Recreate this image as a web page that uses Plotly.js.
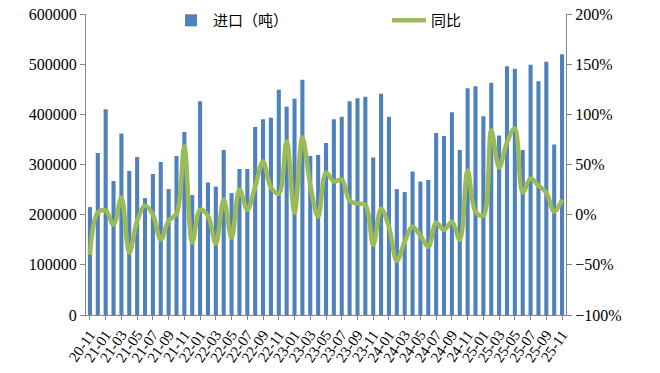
<!DOCTYPE html>
<html>
<head>
<meta charset="utf-8">
<script src="https://cdn.plot.ly/plotly-3.0.1.min.js"></script>
<style>
html,body{margin:0;padding:0;background:#fff;}
#chart{width:660px;height:373px;}
</style>
</head>
<body>
<div id="chart"></div>
<script>
const months = [
  "20-11","20-12",
  "21-01","21-02","21-03","21-04","21-05","21-06","21-07","21-08","21-09","21-10","21-11","21-12",
  "22-01","22-02","22-03","22-04","22-05","22-06","22-07","22-08","22-09","22-10","22-11","22-12",
  "23-01","23-02","23-03","23-04","23-05","23-06","23-07","23-08","23-09","23-10","23-11","23-12",
  "24-01","24-02","24-03","24-04","24-05","24-06","24-07","24-08","24-09","24-10","24-11","24-12",
  "25-01","25-02","25-03","25-04","25-05","25-06","25-07","25-08","25-09","25-10","25-11"
];
const imports = [
  215000, 323000,
  410000, 267000, 362000, 287000, 315000, 233000, 281000, 305000, 251000, 317000, 365000, 239000,
  426000, 264000, 256000, 329000, 243000, 291000, 291000, 375000, 390000, 393000, 449000, 415000,
  431000, 469000, 317000, 319000, 343000, 390000, 395000, 426000, 432000, 435000, 314000, 441000,
  395000, 251000, 245000, 286000, 266000, 269000, 363000, 357000, 404000, 329000, 452000, 456000,
  396000, 463000, 358000, 496000, 491000, 329000, 499000, 466000, 505000, 340000, 520000
];
const yoy = [
  -0.40, 0.02,
  0.04, -0.10, 0.17, -0.38, -0.06, 0.09, 0.00, -0.25, -0.06, 0.01, 0.68, -0.28,
  0.05, -0.01, -0.29, 0.15, -0.23, 0.25, 0.05, 0.28, 0.53, 0.27, 0.21, 0.73,
  0.02, 0.77, 0.30, -0.02, 0.42, 0.33, 0.35, 0.14, 0.11, 0.10, -0.30, 0.06,
  -0.12, -0.46, -0.27, -0.12, -0.21, -0.32, -0.08, -0.15, -0.07, -0.25, 0.44, 0.03,
  -0.01, 0.84, 0.47, 0.72, 0.86, 0.22, 0.36, 0.29, 0.22, 0.03, 0.15
];
const tickLabels = months.filter((m, i) => i % 2 === 0);

const serif = "Liberation Serif, Times New Roman, serif";
const cjk = "Noto Sans CJK SC, sans-serif";

const data = [
  {
    type: "bar",
    name: "进口（吨）",
    x: months,
    y: imports,
    marker: {color: "#4F81BD"},
    yaxis: "y",
    legend: "legend"
  },
  {
    type: "scatter",
    mode: "lines",
    name: "同比",
    x: months,
    y: yoy,
    line: {color: "#9BBB59", width: 4.5, shape: "spline", smoothing: 1},
    yaxis: "y2",
    legend: "legend2"
  }
];

const axisColor = "#868686";
const legendBase = {
  orientation: "h",
  xanchor: "left",
  y: 1.033, yanchor: "top",
  font: {family: cjk, size: 15, color: "#000"},
  itemwidth: 34,
  bgcolor: "rgba(0,0,0,0)"
};
const layout = {
  width: 660,
  height: 373,
  margin: {l: 86, r: 94, t: 14, b: 58, pad: 0, autoexpand: false},
  paper_bgcolor: "#ffffff",
  plot_bgcolor: "#ffffff",
  bargap: 0.48,
  showlegend: true,
  legend: Object.assign({}, legendBase, {x: 0.173}),
  legend2: Object.assign({}, legendBase, {x: 0.627}),
  xaxis: {
    type: "category",
    range: [-0.5, months.length - 0.5],
    tickmode: "array",
    tickvals: tickLabels,
    ticktext: tickLabels,
    tickangle: -55,
    tickfont: {family: serif, size: 15, color: "#000"},
    showline: true,
    linecolor: axisColor,
    linewidth: 1,
    ticks: "outside",
    ticklen: 4,
    tickcolor: axisColor,
    showgrid: false,
    zeroline: false,
    fixedrange: true
  },
  yaxis: {
    range: [0, 600000],
    dtick: 100000,
    tickformat: "d",
    tickfont: {family: serif, size: 16, color: "#000"},
    showline: true,
    linecolor: axisColor,
    linewidth: 1,
    ticks: "outside",
    ticklen: 5,
    tickcolor: axisColor,
    showgrid: false,
    zeroline: false
  },
  yaxis2: {
    overlaying: "y",
    side: "right",
    range: [-1, 2],
    dtick: 0.5,
    tickformat: ".0%",
    tickfont: {family: serif, size: 16, color: "#000"},
    showline: true,
    linecolor: axisColor,
    linewidth: 1,
    ticks: "outside",
    ticklen: 5,
    tickcolor: axisColor,
    showgrid: false,
    zeroline: false
  }
};

Plotly.newPlot("chart", data, layout, {displayModeBar: false, staticPlot: true});
</script>
</body>
</html>
